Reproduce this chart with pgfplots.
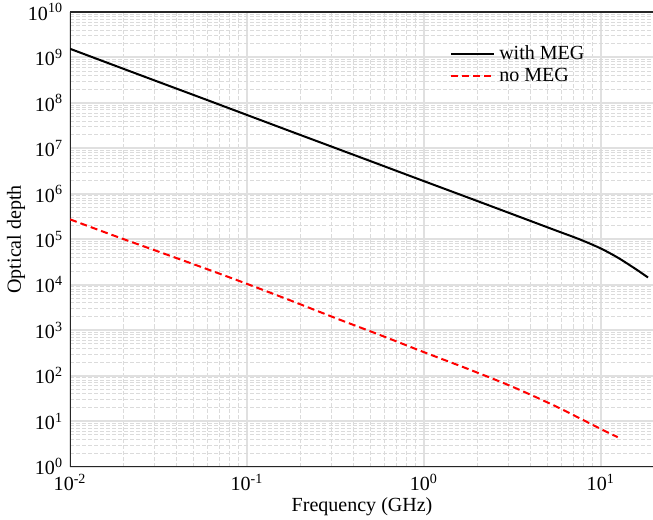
\documentclass[border=0pt]{standalone}
\usepackage{fontspec}
\setmainfont{Liberation Serif}
\usepackage{pgfplots}
\pgfplotsset{compat=1.18}

% Optical depth versus frequency, with and without MEG
\pgfplotstableread{
freq    tau
0.01    1.55e9
0.01778 6.70e8
0.03162 2.90e8
0.05623 1.26e8
0.1     5.44e7
0.1778  2.35e7
0.3162  1.02e7
0.5623  4.42e6
1       1.91e6
1.778   8.30e5
3.162   3.59e5
5.623   1.55e5
7.6     1.0e5
10      6.31e4
12.59   3.89e4
15.85   2.19e4
18.5    1.45e4
}\withmeg

\pgfplotstableread{
freq    tau
0.01    2.75e5
0.01778 1.20e5
0.03162 5.37e4
0.05623 2.40e4
0.1     1.05e4
0.1778  4.47e3
0.3162  1.86e3
0.5623  794
1       331
1.778   141
3.162   57.5
5.623   20.9
10      6.76
12.47   4.47
}\nomeg

\begin{document}
\begin{tikzpicture}
\begin{loglogaxis}[
  scale only axis,
  width=291.5pt, height=227pt,
  xmin=0.01, xmax=20,
  ymin=1, ymax=1e10,
  xtickten={-2,-1,0,1},
  ytickten={0,1,2,3,4,5,6,7,8,9,10},
  xticklabels={10\textsuperscript{-2},10\textsuperscript{-1},10\textsuperscript{0},10\textsuperscript{1}},
  yticklabels={10\textsuperscript{0},10\textsuperscript{1},10\textsuperscript{2},10\textsuperscript{3},10\textsuperscript{4},10\textsuperscript{5},10\textsuperscript{6},10\textsuperscript{7},10\textsuperscript{8},10\textsuperscript{9},10\textsuperscript{10}},
  axis x line=box,
  axis y line=left,
  x axis line style={-},
  y axis line style={-},
  axis line style={black!85, line width=0.6pt},
  major tick length=0pt,
  minor tick length=0pt,
  grid=both,
  major grid style={black!12, line width=1pt},
  minor grid style={black!14, line width=0.5pt, dash pattern=on 2pt off 1pt},
  xlabel={Frequency (GHz)},
  ylabel={Optical depth},
  every axis x label/.style={at={(rel axis cs:0.5,0)}, yshift=-20pt, anchor=center},
  every axis y label/.style={at={(rel axis cs:0,0.5)}, xshift=-27pt, rotate=90, anchor=center},
  legend cell align=left,
  legend style={at={(rel axis cs:0.64,0.945)}, anchor=north west,
    draw=none, fill=none, row sep=-1pt},
  legend image code/.code={\draw[#1] (0pt,0pt) -- (21.5pt,0pt);},
]
\addplot[black, line width=1pt, smooth] table[x=freq, y=tau] {\withmeg};
\addlegendentry{with MEG}
\addplot[red, line width=1pt, smooth, dash pattern=on 3.5pt off 2pt] table[x=freq, y=tau] {\nomeg};
\addlegendentry{no MEG}
\end{loglogaxis}
\pgfresetboundingbox
\path[use as bounding box]
  ([xshift=-35pt,yshift=-26.5pt]current axis.south west)
  rectangle ([xshift=-0.5pt,yshift=6pt]current axis.north east);
\end{tikzpicture}
\end{document}
